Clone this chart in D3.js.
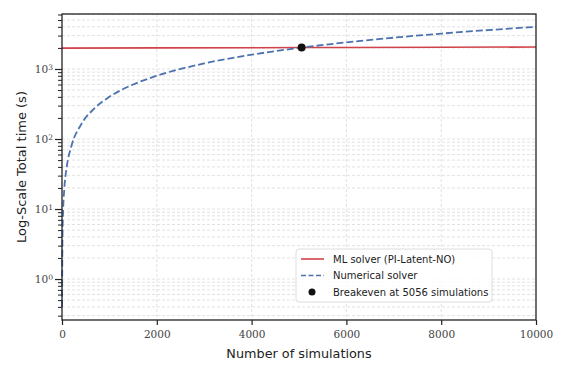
<!DOCTYPE html>
<html lang="en">
<head>
<meta charset="UTF-8">
<script src="https://d3js.org/d3.v7.min.js"></script>
<title>Breakeven</title>
<style>
  body { margin: 0; background: white; }
  .tick text { font-family: "DejaVu Serif", serif; }
</style>
</head>
<body>
<svg id="chart"></svg>
<script>
// values
const mlSims = [0, 2000, 4000, 5056, 6000, 8000, 10000];
const mlTime = [1985, 2000, 2015, 2023, 2030, 2045, 2060];
const numSims = [1, 10, 25, 50, 100, 200, 400, 700, 1000, 1500, 2000, 3000, 4000, 5056, 6000, 7000, 8000, 9000, 10000];
const numTime = [0.4, 4, 10, 20, 40, 80, 160, 280, 400, 600, 800, 1200, 1600, 2022, 2400, 2800, 3200, 3600, 4000];
const breakeven = {sims: 5056, time: 2023};
const xTicks = [0, 2000, 4000, 6000, 8000, 10000];
const yMajor = [1, 10, 100, 1000];
const legendLabels = ["ML solver (PI-Latent-NO)", "Numerical solver", "Breakeven at 5056 simulations"];

const w = 565, h = 374;
const m = {left: 62, right: 29, top: 14, bottom: 54};
const svg = d3.select("#chart").attr("width", w).attr("height", h);

const x = d3.scaleLinear().domain([0, 10000]).range([m.left, w - m.right]);
const y = d3.scaleLog().domain([0.26, 6100]).range([h - m.bottom, m.top]);

// minor + major y values inside domain
const yAll = [];
for (let e = -1; e <= 3; e++) {
  for (let k = 1; k <= 9; k++) {
    const v = k * Math.pow(10, e);
    if (v >= 0.26 && v <= 6100) yAll.push(v);
  }
}

// grid
svg.append("g").selectAll("line").data(yAll).enter().append("line")
  .attr("x1", m.left).attr("x2", w - m.right)
  .attr("y1", d => y(d)).attr("y2", d => y(d))
  .attr("stroke", "#dadada").attr("stroke-width", 0.8).attr("stroke-dasharray", "3,2");
svg.append("g").selectAll("line").data(xTicks.slice(1, -1)).enter().append("line")
  .attr("x1", d => x(d)).attr("x2", d => x(d))
  .attr("y1", m.top).attr("y2", h - m.bottom)
  .attr("stroke", "#dadada").attr("stroke-width", 0.8).attr("stroke-dasharray", "3,2");

// lines
const lineML = d3.line().x((d, i) => x(mlSims[i])).y(d => y(d));
svg.append("path").datum(mlTime).attr("d", lineML)
  .attr("fill", "none").attr("stroke", "#d1434a").attr("stroke-width", 1.6);

const lineNum = d3.line().x((d, i) => x(numSims[i])).y(d => y(d)).curve(d3.curveMonotoneX);
svg.append("path").datum(numTime).attr("d", lineNum)
  .attr("fill", "none").attr("stroke", "#4c72b0").attr("stroke-width", 1.8)
  .attr("stroke-dasharray", "7,3");

svg.append("circle").attr("cx", x(breakeven.sims)).attr("cy", y(breakeven.time))
  .attr("r", 4).attr("fill", "#111");

// axes
const xAxis = d3.axisBottom(x).tickValues(xTicks).tickSize(5).tickPadding(6).tickFormat(d3.format("d"));
const gx = svg.append("g").attr("transform", "translate(0," + (h - m.bottom) + ")").call(xAxis);
gx.select(".domain").remove();
gx.selectAll(".tick line").attr("stroke", "#222").attr("stroke-width", 1.2);
gx.selectAll(".tick text").attr("font-size", 10.5).attr("fill", "#444");

const yAxisMinor = d3.axisLeft(y).tickValues(yAll.filter(v => !yMajor.includes(v))).tickSize(4).tickFormat("");
const gym = svg.append("g").attr("transform", "translate(" + m.left + ",0)").call(yAxisMinor);
gym.select(".domain").remove();
gym.selectAll(".tick line").attr("stroke", "#222").attr("stroke-width", 1);

const yAxis = d3.axisLeft(y).tickValues(yMajor).tickSize(7).tickPadding(3).tickFormat("");
const gy = svg.append("g").attr("transform", "translate(" + m.left + ",0)").call(yAxis);
gy.select(".domain").remove();
gy.selectAll(".tick line").attr("stroke", "#222").attr("stroke-width", 1.2);
gy.selectAll(".tick").append("text")
  .attr("x", -9).attr("dy", "0.35em").attr("text-anchor", "end")
  .attr("font-size", 10.5).attr("fill", "#444")
  .each(function(d) {
    const t = d3.select(this);
    t.append("tspan").text("10");
    t.append("tspan").attr("dy", "-0.45em").attr("font-size", 7.5).text(Math.round(Math.log10(d)));
  });

// frame
svg.append("rect").attr("x", m.left).attr("y", m.top)
  .attr("width", w - m.left - m.right).attr("height", h - m.top - m.bottom)
  .attr("fill", "none").attr("stroke", "#222").attr("stroke-width", 1.3);

// labels
svg.append("text").attr("x", (m.left + w - m.right) / 2).attr("y", 358)
  .attr("text-anchor", "middle").attr("font-family", "DejaVu Sans, sans-serif")
  .attr("font-size", 12.8).attr("fill", "#222").text("Number of simulations");
svg.append("text").attr("transform", "translate(26," + ((m.top + h - m.bottom) / 2) + ") rotate(-90)")
  .attr("text-anchor", "middle").attr("font-family", "DejaVu Sans, sans-serif")
  .attr("font-size", 13).attr("fill", "#222").text("Log-Scale Total time (s)");

// legend
const lg = svg.append("g").attr("transform", "translate(296,249)");
lg.append("rect").attr("width", 196).attr("height", 53).attr("rx", 3)
  .attr("fill", "white").attr("fill-opacity", 0.85).attr("stroke", "#ddd");
lg.append("line").attr("x1", 5).attr("x2", 28).attr("y1", 10).attr("y2", 10)
  .attr("stroke", "#d1434a").attr("stroke-width", 1.6);
lg.append("line").attr("x1", 5).attr("x2", 28).attr("y1", 26.5).attr("y2", 26.5)
  .attr("stroke", "#4c72b0").attr("stroke-width", 1.6).attr("stroke-dasharray", "5,2.5");
lg.append("circle").attr("cx", 16).attr("cy", 43).attr("r", 3.5).attr("fill", "#111");
lg.selectAll("text.lab").data(legendLabels).enter().append("text").attr("class", "lab")
  .attr("x", 37).attr("y", (d, i) => 10 + i * 16.5).attr("dy", "0.35em")
  .attr("font-family", "DejaVu Sans, sans-serif").attr("font-size", 10).attr("fill", "#222")
  .text(d => d);
</script>
</body>
</html>
